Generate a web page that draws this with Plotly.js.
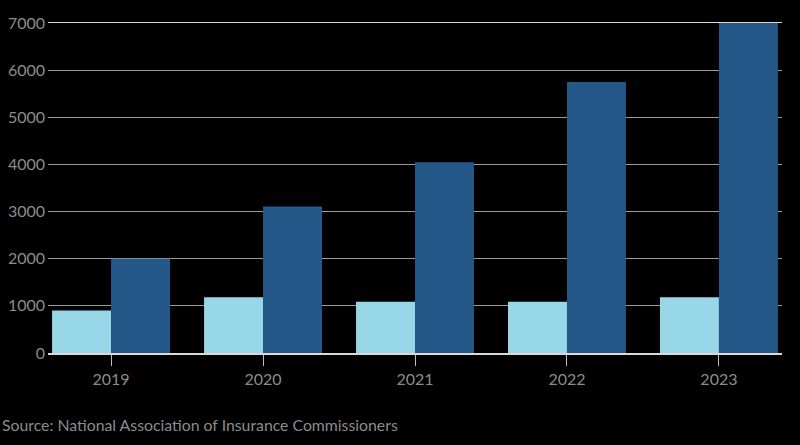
<!DOCTYPE html>
<html>
<head>
<meta charset="utf-8">
<script src="https://cdn.plot.ly/plotly-3.0.1.min.js"></script>
<style>
html,body{margin:0;padding:0;background:#000;}
#chart{width:800px;height:445px;}
</style>
</head>
<body>
<div id="chart"></div>
<script>
var years = ['2019', '2020', '2021', '2022', '2023'];
var lightSeries = [900, 1185, 1085, 1085, 1185];
var darkSeries = [2000, 3110, 4045, 5750, 7000];
var yTicks = [0, 1000, 2000, 3000, 4000, 5000, 6000, 7000];
var sourceText = 'Source: National Association of Insurance Commissioners';

var traces = [
  {type: 'bar', x: years, y: lightSeries, marker: {color: '#98d7e7'}, hoverinfo: 'skip', showlegend: false},
  {type: 'bar', x: years, y: darkSeries, marker: {color: '#245888'}, hoverinfo: 'skip', showlegend: false}
];

var layout = {
  width: 800, height: 445,
  paper_bgcolor: '#000', plot_bgcolor: '#000',
  margin: {l: 48, r: 18, t: 23, b: 92},
  barmode: 'group', bargap: 0.224, bargroupgap: 0,
  font: {family: 'Lato, "Noto Sans", sans-serif', size: 16, color: '#8c8c8c'},
  xaxis: {
    type: 'category', range: [-0.415, 4.415],
    showline: true, linecolor: '#d9d9d9', linewidth: 1.5, mirror: true,
    ticks: 'outside', ticklen: 11, tickcolor: '#bdbdbd', tickwidth: 1,
    showgrid: false, tickfont: {size: 16, color: '#8c8c8c'}
  },
  yaxis: {
    range: [0, 7000], tickvals: yTicks, ticktext: yTicks.map(String),
    showgrid: true, gridcolor: '#9a9a9a', gridwidth: 1.2,
    zeroline: false, showline: false, ticks: '',
    ticklabelstandoff: 2,
    tickfont: {size: 16, color: '#8c8c8c'}
  },
  annotations: [{
    text: sourceText, xref: 'paper', yref: 'paper', x: 0, y: 0,
    xshift: -48, yshift: -71, xanchor: 'left', yanchor: 'middle',
    showarrow: false, font: {size: 15.8, color: '#8c8c8c'}
  }]
};

Plotly.newPlot('chart', traces, layout, {displayModeBar: false, staticPlot: true});
</script>
</body>
</html>
